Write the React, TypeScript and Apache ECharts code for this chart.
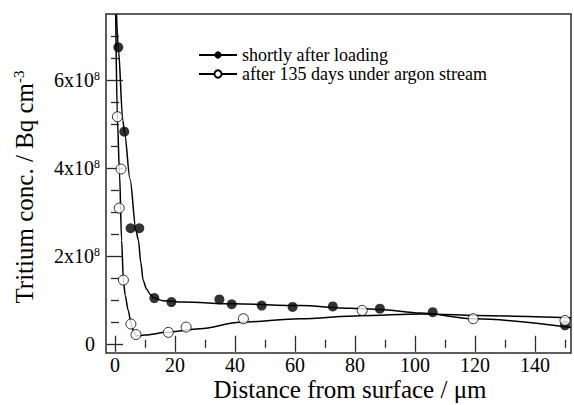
import React, { useEffect, useRef } from 'react';
import * as echarts from 'echarts';

const FONT = "'Liberation Serif', 'Times New Roman', 'DejaVu Serif', serif";

// axis ticks (y in units of 10^8 Bq cm^-3)
const xMajorTicks = [0, 20, 40, 60, 80, 100, 120, 140];
const xMinorTicks = [10, 30, 50, 70, 90, 110, 130, 150];
const yMajorTicks = [0, 2, 4, 6];
const yMinorTicks = [0.5, 1, 1.5, 2.5, 3, 3.5, 4.5, 5, 5.5, 6.5, 7];

// measured points: shortly after loading (filled)
const loadedX = [1.1, 3.1, 5.2, 8.1, 13.1, 18.8, 34.8, 38.9, 48.9, 59.2, 72.6, 88.3, 105.9, 150];
const loadedY = [6.75, 4.83, 2.63, 2.63, 1.04, 0.95, 1.01, 0.9, 0.87, 0.84, 0.85, 0.8, 0.72, 0.42];

// measured points: after 135 days under argon stream (open)
const argonX = [0.8, 2.0, 1.4, 2.8, 5.3, 7.0, 17.8, 23.7, 42.8, 82.4, 119.4, 150];
const argonY = [5.17, 3.98, 3.09, 1.45, 0.45, 0.21, 0.26, 0.38, 0.57, 0.76, 0.57, 0.53];

// fitted curves
const loadedFitX = [0.5, 1.1, 2.6, 3.2, 5.0, 7.0, 7.8, 8.6, 9.4, 10.5, 11.7, 13, 16, 22.7, 39.4, 61.7, 78.3, 88.3, 101.7, 120, 152];
const loadedFitY = [7.5, 6.74, 5.09, 4.8, 3.75, 2.58, 2.36, 1.85, 1.44, 1.25, 1.13, 1.04, 0.98, 0.95, 0.91, 0.87, 0.81, 0.78, 0.7, 0.57, 0.37];

const argonFitX = [0.23, 0.8, 1.5, 2.2, 2.8, 3.4, 4.4, 5.4, 6.3, 7.2, 10, 17.2, 28.3, 41.7, 61.7, 81.7, 102, 125, 152];
const argonFitY = [7.5, 5.1, 3.9, 2.36, 1.45, 1.1, 0.76, 0.45, 0.27, 0.18, 0.2, 0.26, 0.34, 0.49, 0.57, 0.64, 0.68, 0.64, 0.59];

const seriesNames = ['shortly after loading', 'after 135 days under argon stream'];

const zip = (xs: number[], ys: number[]) => xs.map((x, i) => [x, ys[i]]);

const AX = '#2a2a2a';
const X_MIN = -3;
const X_MAX = 152;
const Y_MIN = -0.21;
const Y_MAX = 7.51;

function xAxis(position: 'top' | 'bottom', ticks: number[], len: number, labels: boolean) {
  return {
    type: 'value',
    position,
    min: X_MIN,
    max: X_MAX,
    axisLine: { show: false },
    splitLine: { show: false },
    axisTick: { show: true, inside: true, length: len, customValues: ticks, lineStyle: { color: AX, width: 1.3 } },
    axisLabel: labels
      ? { show: true, customValues: ticks, margin: 2, fontSize: 20, fontFamily: FONT, color: '#000' }
      : { show: false },
  };
}

function yAxis(position: 'left' | 'right', ticks: number[], len: number, labels: boolean) {
  return {
    type: 'value',
    position,
    min: Y_MIN,
    max: Y_MAX,
    axisLine: { show: false },
    splitLine: { show: false },
    axisTick: { show: true, inside: true, length: len, customValues: ticks, lineStyle: { color: AX, width: 1.3 } },
    axisLabel: labels
      ? {
          show: true,
          customValues: ticks,
          margin: 6,
          formatter: (v: number) => (v === 0 ? '{z|0}' : `{b|${v}x10}{s|8}`),
          rich: {
            z: { fontSize: 20, fontFamily: FONT, color: '#000', padding: [0, 5, 0, 0] },
            b: { fontSize: 20, fontFamily: FONT, color: '#000' },
            s: { fontSize: 12, fontFamily: FONT, color: '#000', verticalAlign: 'top' },
          },
        }
      : { show: false },
  };
}

export default function App() {
  const ref = useRef<HTMLDivElement>(null);
  useEffect(() => {
    const chart = echarts.init(ref.current!, null, { renderer: 'svg' });
    const option: any = {
      animation: false,
      backgroundColor: '#fff',
      grid: { left: 106, right: 3, top: 14, bottom: 52, show: true, borderColor: AX, borderWidth: 1.5, backgroundColor: 'transparent' },
      xAxis: [
        xAxis('bottom', xMajorTicks, 8, true),
        xAxis('bottom', xMinorTicks, 4, false),
        xAxis('top', xMajorTicks, 8, false),
        xAxis('top', xMinorTicks, 4, false),
      ],
      yAxis: [
        yAxis('left', yMajorTicks, 8, true),
        yAxis('left', yMinorTicks, 4, false),
        yAxis('right', yMajorTicks, 8, false),
        yAxis('right', yMinorTicks, 4, false),
      ],
      legend: {
        orient: 'vertical',
        left: 193,
        top: 41,
        itemWidth: 38,
        itemHeight: 9,
        itemGap: 1,
        textStyle: { fontSize: 18, fontFamily: FONT, color: '#000' },
        data: seriesNames,
      },
      graphic: [
        {
          type: 'text',
          x: 350,
          y: 389,
          style: {
            text: 'Distance from surface / μm',
            fontSize: 25,
            fontFamily: FONT,
            fill: '#000',
            align: 'center',
            verticalAlign: 'middle',
            textAlign: 'center',
            textVerticalAlign: 'middle',
          },
        },
        {
          type: 'text',
          x: 24,
          y: 187,
          rotation: Math.PI / 2,
          style: {
            text: '{n|Tritium conc. / Bq cm}{s|-3}',
            rich: {
              n: { fontSize: 25, fontFamily: FONT, fill: '#000', color: '#000' },
              s: { fontSize: 15, fontFamily: FONT, fill: '#000', color: '#000', verticalAlign: 'top' },
            },
            fill: '#000',
            align: 'center',
            verticalAlign: 'middle',
            textAlign: 'center',
            textVerticalAlign: 'middle',
          },
        },
      ],
      series: [
        {
          name: seriesNames[0],
          type: 'line',
          data: zip(loadedFitX, loadedFitY),
          smooth: 0.3,
          smoothMonotone: 'x',
          symbol: 'circle',
          showSymbol: false,
          lineStyle: { color: '#000', width: 1.5 },
          itemStyle: { color: '#000' },
          clip: true,
          z: 2,
        },
        {
          name: seriesNames[1],
          type: 'line',
          data: zip(argonFitX, argonFitY),
          smooth: 0.3,
          smoothMonotone: 'x',
          symbol: 'circle',
          showSymbol: false,
          lineStyle: { color: '#000', width: 1.5 },
          itemStyle: { color: '#fff', borderColor: '#000', borderWidth: 1 },
          clip: true,
          z: 2,
        },
        {
          name: 'loaded points',
          type: 'scatter',
          data: zip(loadedX, loadedY),
          symbol: 'circle',
          symbolSize: 10,
          itemStyle: { color: '#000' },
          z: 3,
        },
        {
          name: 'argon points',
          type: 'scatter',
          data: zip(argonX, argonY),
          symbol: 'circle',
          symbolSize: 10,
          itemStyle: { color: '#fff', borderColor: '#000', borderWidth: 1 },
          z: 4,
        },
      ],
    };
    chart.setOption(option);
    return () => chart.dispose();
  }, []);
  return <div ref={ref} style={{ position: 'fixed', left: 0, top: 0, width: 574, height: 405 }} />;
}
